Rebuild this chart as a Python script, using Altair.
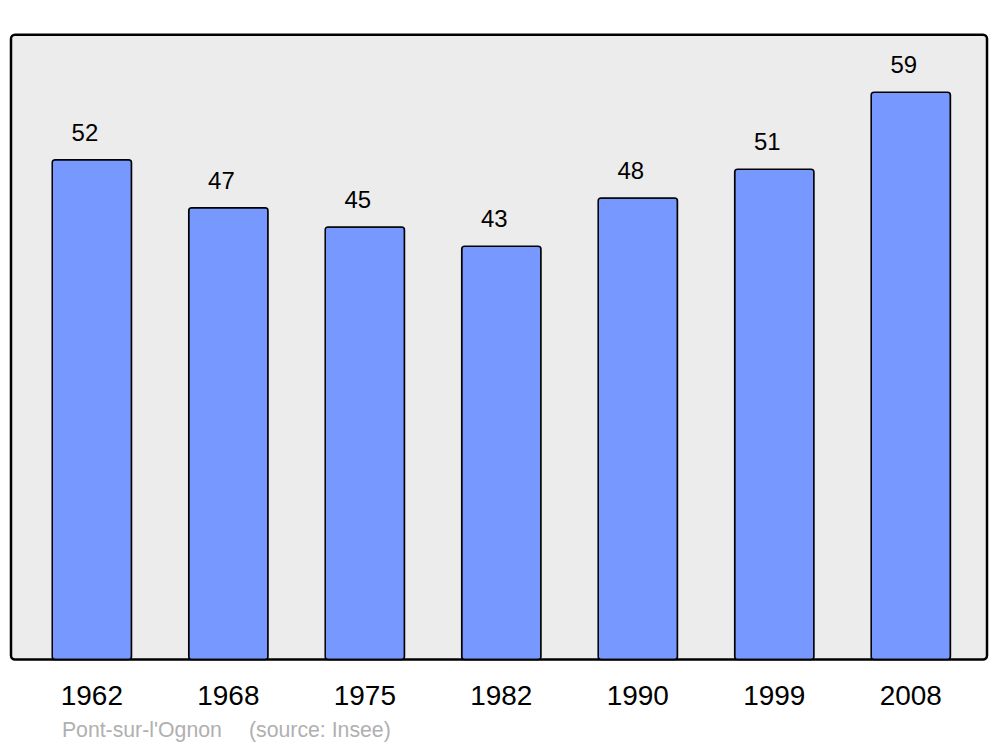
import altair as alt
import pandas as pd

years = ["1962", "1968", "1975", "1982", "1990", "1999", "2008"]
population = [52, 47, 45, 43, 48, 51, 59]

df = pd.DataFrame({"year": years, "pop": population})

x = alt.X(
    "year:N",
    sort=years,
    scale=alt.Scale(paddingInner=0.419, paddingOuter=0.285, align=0.53),
    axis=alt.Axis(
        title=None,
        domain=False,
        ticks=False,
        labelAngle=0,
        labelFontSize=28,
        labelFont="Liberation Sans",
        labelColor="black",
        labelBaseline="alphabetic",
        labelPadding=45,
    ),
)
y = alt.Y("pop:Q", scale=alt.Scale(domain=[0, 65], nice=False, zero=True), axis=None)

bars = alt.Chart(df).mark_bar(
    color="#7799ff",
    stroke="black",
    strokeWidth=1.5,
    cornerRadius=3,
).encode(x=x, y=y)

labels = alt.Chart(df).mark_text(
    font="Liberation Sans",
    fontSize=24,
    color="black",
    baseline="alphabetic",
    dy=-19,
    dx=-7,
).encode(x=x, y=y, text="pop:Q")

chart = (
    alt.layer(bars, labels)
    .properties(
        width=978,
        height=626,
        autosize=alt.AutoSizeParams(type="none"),
        padding={"left": 3, "top": 26, "right": 5, "bottom": 86},
        title=alt.TitleParams(
            text="Pont-sur-l'Ognon\u00a0\u00a0\u00a0\u00a0\u2006(source: Insee)",
            orient="bottom",
            anchor="start",
            frame="group",
            dx=51,
            offset=10,
            fontSize=21.3,
            font="Liberation Sans",
            fontWeight="normal",
            color="#b0b0b0",
        ),
    )
    .configure_view(
        fill="#ececec",
        stroke="black",
        strokeWidth=2.5,
        cornerRadius=4,
    )
)

chart.save("out.html", embed_options={"renderer": "svg", "actions": False})
